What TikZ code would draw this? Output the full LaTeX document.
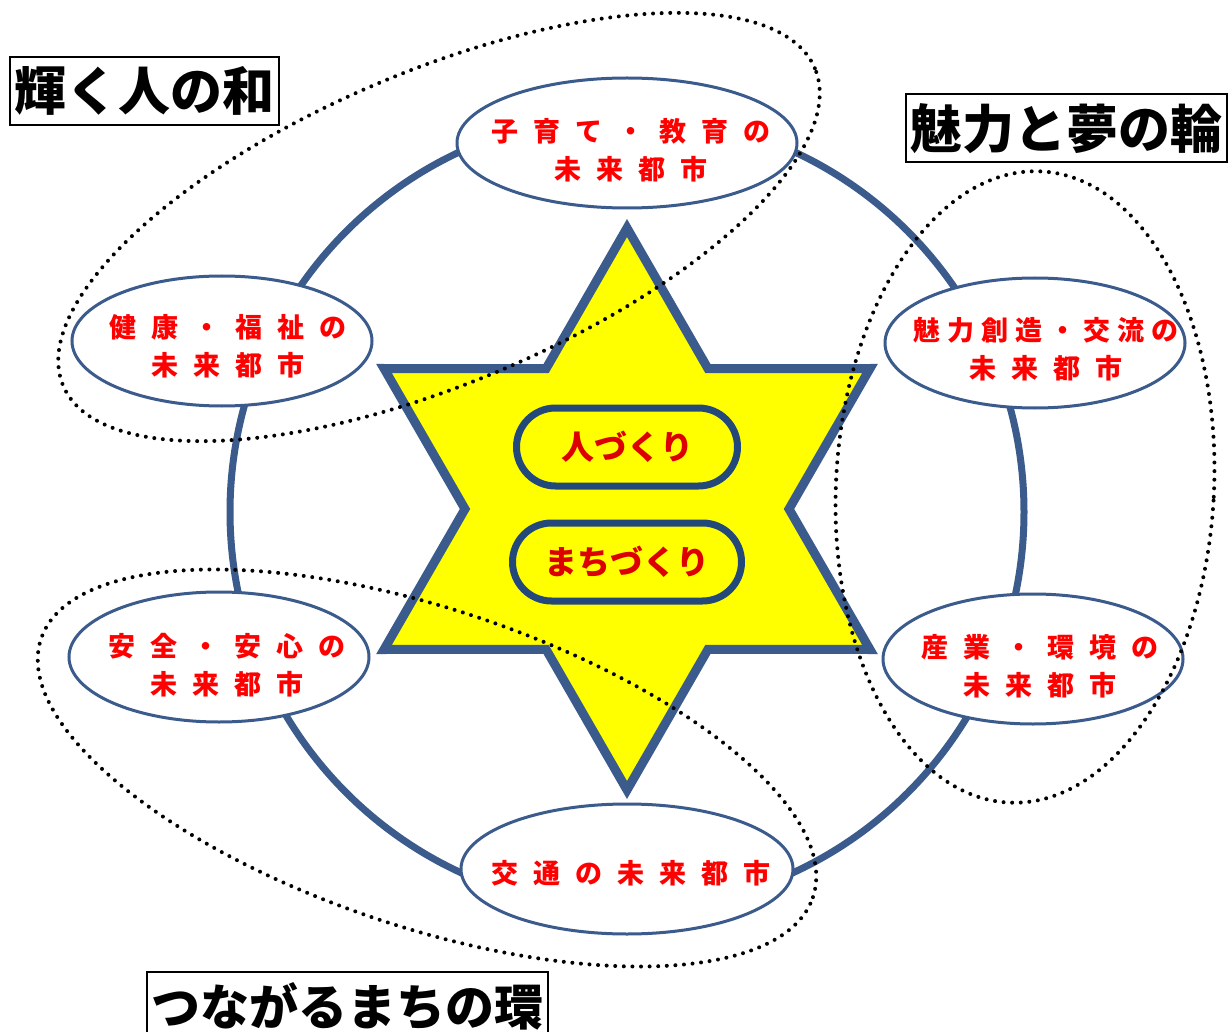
\documentclass[tikz,border=0pt]{standalone}
\usepackage{fontspec}
\usetikzlibrary{shapes.geometric}
\newfontfamily\jp{Noto Sans CJK JP}
\definecolor{ringblue}{RGB}{59,91,140}
\definecolor{pillblue}{RGB}{35,73,123}
\definecolor{pilltext}{RGB}{220,0,0}
\definecolor{staryellow}{RGB}{255,255,0}
\ExplSyntaxOn
\NewDocumentCommand \spaced { O{15pt} m }
 {
  \bool_set_true:N \l_tmpa_bool
  \tl_map_inline:nn {#2}
   {
    \bool_if:NF \l_tmpa_bool { \hspace{#1} }
    \bool_set_false:N \l_tmpa_bool
    ##1
   }
 }
\ExplSyntaxOff
\begin{document}
\begin{tikzpicture}[x=1pt,y=-1pt,
  ringstyle/.style={circle, draw=ringblue, line width=7pt, minimum size=794pt, inner sep=0pt},
  starstyle/.style={draw=ringblue, fill=staryellow, line width=9pt, line join=miter, miter limit=10},
  pill/.style={draw=pillblue, fill=staryellow, line width=7pt, rounded corners=39pt, minimum height=78pt, inner sep=0pt,
     font=\jp\bfseries\fontsize{33}{33}\selectfont, text=pilltext},
  cityell/.style={ellipse, draw=ringblue, fill=white, line width=3pt, minimum height=130pt, inner sep=0pt},
  citytext/.style={align=center, text=red, inner sep=0pt, font=\jp\bfseries\fontsize{27}{38}\selectfont},
  dotline/.style={line width=4pt, dash pattern=on 0pt off 8.6pt, line cap=round, black},
  labelbox/.style={draw=black, fill=white, line width=2pt, inner sep=0pt, minimum height=68pt,
     font=\jp\bfseries\fontsize{52}{52}\selectfont}
]
\useasboundingbox (0,0) rectangle (1232,1032);
\fill[white] (0,0) rectangle (1232,1032);
% ring
\node[ringstyle] (ring) at (627,512) {};
% star
\draw[starstyle] (627,228) -- (708,368.7) -- (870,368.5) -- (789,509) -- (870,649.5) -- (708,649.3)
  -- (627,790) -- (546,649.3) -- (384,649.5) -- (465,509) -- (384,368.5) -- (546,368.7) -- cycle;
% pills
\node[pill, minimum width=221pt] (hito) at (627,447) {人づくり};
\node[pill, minimum width=229pt] (machi) at (627,562) {まちづくり};
% city ellipses
\node[cityell, minimum width=340pt] (kosodate) at (627,143) {};
\node[cityell, minimum width=300pt] (kenko) at (222,341) {};
\node[cityell, minimum width=300pt] (miryoku) at (1035,343) {};
\node[cityell, minimum width=300pt] (anzen) at (219,657) {};
\node[cityell, minimum width=300pt] (sangyo) at (1033,659) {};
\node[cityell, minimum width=332pt] (kotsu) at (627,869) {};
\node[citytext] (t-kosodate) at (631,150) {\spaced{子育て・教育の}\\\spaced{未来都市}};
\node[citytext] (t-kenko) at (228,346) {\spaced{健康・福祉の}\\\spaced{未来都市}};
\node[citytext] (t-miryoku) at (1046,349) {\spaced[7pt]{魅力創造・交流の}\\\spaced{未来都市}};
\node[citytext] (t-anzen) at (227,665) {\spaced{安全・安心の}\\\spaced{未来都市}};
\node[citytext] (t-sangyo) at (1040,666) {\spaced{産業・環境の}\\\spaced{未来都市}};
\node[citytext] (t-kotsu) at (631,873) {\spaced{交通の未来都市}};
% dotted groupings
\draw[dotline, rotate around={22.9:(439,227)}] (439,227) ellipse (408pt and 156pt);
\draw[dotline, rotate around={-3:(1025,487)}] (1025,487) ellipse (189pt and 316pt);
\draw[dotline, rotate around={-18.5:(427,768)}] (427,768) ellipse (407pt and 159pt);
% labels
\node[labelbox, minimum width=269pt] (kagayaku) at (144.5,91) {輝く人の和};
\node[labelbox, minimum width=321pt] (yume) at (1066.5,128.5) {魅力と夢の輪};
\node[labelbox, minimum width=401pt, font=\jp\bfseries\fontsize{49}{49}\selectfont] (tsunagaru) at (347.5,1006) {つながるまちの環};
\end{tikzpicture}
\end{document}
